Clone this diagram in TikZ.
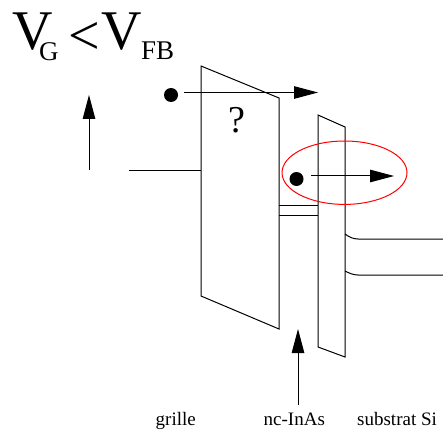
\documentclass[tikz,border=0pt]{standalone}
\usepackage{fontspec}
\setmainfont{Liberation Serif}
\usetikzlibrary{arrows.meta}
\tikzset{
  wire/.style={line width=1pt,black},
  plate/.style={line width=1pt,black},
  bigtip/.style={-{Triangle[length=24pt,width=12.5pt,sep=0pt]}},
  electron/.style={circle,fill=black,inner sep=0pt,minimum size=14pt},
  lbl/.style={inner sep=0pt,anchor=base west,font=\fontsize{19pt}{21pt}\selectfont},
  big/.style={inner sep=0pt,anchor=base west,font=\fontsize{56pt}{58pt}\selectfont},
  subs/.style={inner sep=0pt,anchor=base west,font=\fontsize{27pt}{29pt}\selectfont},
}
\begin{document}
\begin{tikzpicture}[x=1pt,y=-1pt]
\useasboundingbox (0,0) rectangle (443,435);
% title
\node[big] (v1) at (12.5,50) {V};
\node[subs] (g) at (39,61) {G};
\node[big] (lt) at (68,55) {<};
\node[big] (v2) at (101.5,50) {V};
\node[subs] (fb) at (141,60) {FB};
% plates
\draw[plate] (201,66) -- (279,98) -- (279,329) -- (201,296) -- cycle;
\draw[plate] (318,115) -- (345,127) -- (345,357) -- (318,347) -- cycle;
\node[inner sep=0pt,font=\fontsize{38pt}{40pt}\selectfont] (q) at (237,120) {?};
% electrons
\node[electron] (e1) at (171,95) {};
\node[electron] (e2) at (296.5,179) {};
\coordinate (a1s) at (184,92.5);
\coordinate (a1e) at (318,92.5);
\coordinate (a2s) at (311,176);
\coordinate (a2e) at (394,176);
\draw[wire,bigtip] (a1s) -- (a1e);
\draw[wire,bigtip] (a2s) -- (a2e);
% red ellipse
\draw[red,line width=1pt] (344.5,172.7) ellipse [x radius=62.5,y radius=31.7];
% gate wire and arrows
\coordinate (gw) at (129,170.5);
\coordinate (gp) at (201,170.5);
\draw[wire] (gw) -- (gp);
\coordinate (u1s) at (89,170);
\coordinate (u1e) at (89,95);
\draw[wire,bigtip] (u1s) -- (u1e);
\coordinate (u2s) at (298,405);
\coordinate (u2e) at (298,329);
\draw[wire,bigtip] (u2s) -- (u2e);
% nanocrystal
\coordinate (n1a) at (279,206);
\coordinate (n1b) at (318,206);
\coordinate (n2a) at (279,215);
\coordinate (n2b) at (318,215);
\draw[wire] (n1a) -- (n1b);
\draw[wire] (n2a) -- (n2b);
% contacts
\coordinate (c1a) at (345,234);
\coordinate (c1b) at (443,239);
\coordinate (c2a) at (345,271);
\coordinate (c2b) at (443,275);
\draw[wire] (c1a) .. controls (349,237) and (353,239) .. (358,239) -- (c1b);
\draw[wire] (c2a) .. controls (349,273) and (353,275) .. (358,275) -- (c2b);
% labels
\node[lbl] (l1) at (155.5,425) {grille};
\node[lbl] (l2) at (263.5,425) {nc-InAs};
\node[lbl] (l3) at (357,425) {substrat Si};
\end{tikzpicture}
\end{document}
